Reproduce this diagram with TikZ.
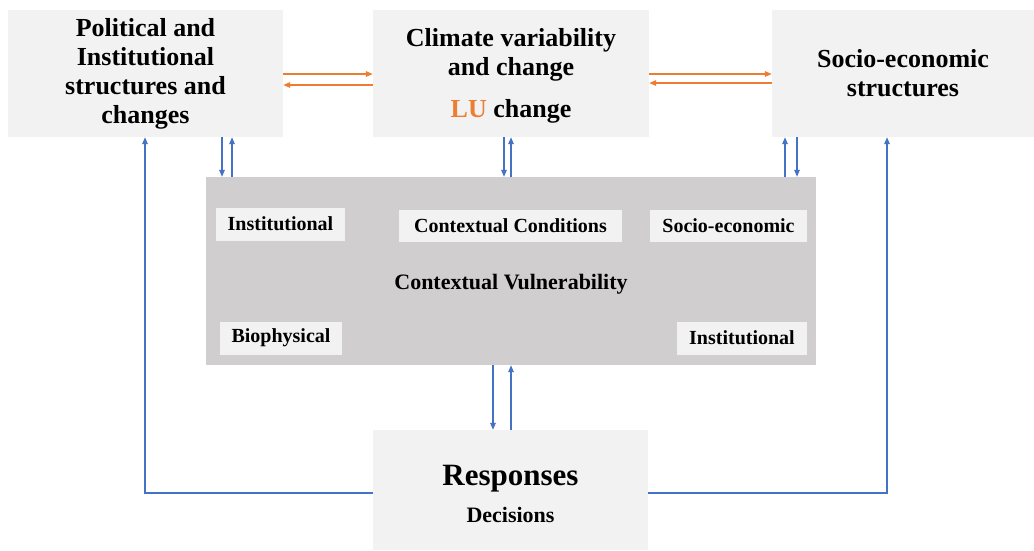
\documentclass[tikz,border=0pt]{standalone}
\usepackage{fontspec}
\setmainfont{Liberation Serif}
\usetikzlibrary{arrows.meta}
\definecolor{boxgrey}{HTML}{F2F2F2}
\definecolor{panelgrey}{HTML}{D0CECE}
\definecolor{linkblue}{HTML}{4472C4}
\definecolor{linkorange}{HTML}{ED7D31}
\begin{document}
\begin{tikzpicture}[x=1pt,y=-1pt,
  block/.style={fill=boxgrey, inner sep=0pt, align=center,
    font=\bfseries\fontsize{26}{29}\selectfont},
  panel/.style={fill=panelgrey, inner sep=0pt},
  tag/.style={fill=boxgrey, inner sep=0pt,
    font=\bfseries\fontsize{20}{24}\selectfont},
  blink/.style={draw=linkblue, line width=1.3pt, -{Triangle[length=7pt,width=5.5pt]}},
  bline/.style={draw=linkblue, line width=1.3pt, -{Triangle[length=7pt,width=5.5pt]}},
  olink/.style={draw=linkorange, line width=1.3pt, -{Triangle[length=7pt,width=5.5pt]}},
]
\useasboundingbox (0,0) rectangle (1034,550);
\fill[white] (0,0) rectangle (1034,550);

% top row of driver boxes
\node[block, minimum width=275pt, minimum height=127pt] (pol) at (145.5,73.5)
  {Political and\\Institutional\\structures and\\changes};
\node[block, minimum width=276pt, minimum height=127pt] (clim) at (511,73.5) {};
\node[block, anchor=center] (climtext) at (511,75.5)
  {Climate variability\\and change\\[13pt]{\color{linkorange}LU} change};
\node[block, minimum width=262pt, minimum height=127pt] (soc) at (903,73.5)
  {Socio-economic\\structures};

% central panel with its conditions
\node[panel, minimum width=610.5pt, minimum height=188pt] (vul) at (510.75,271) {};
\node[tag, minimum width=129pt, minimum height=33pt] (inst1) at (280.5,224) {Institutional};
\node[tag, minimum width=223pt, minimum height=32pt] (cond) at (510.5,225.5) {Contextual Conditions};
\node[tag, minimum width=157pt, minimum height=32pt] (socl) at (728.5,225.5) {Socio-economic};
\node[tag, minimum width=122pt, minimum height=33pt] (bio) at (281,338) {Biophysical};
\node[tag, minimum width=130pt, minimum height=33pt] (inst2) at (742,338) {Institutional};
\node[font=\bfseries\fontsize{22}{26}\selectfont] (cvtitle) at (511,284) {Contextual Vulnerability};

% responses box
\node[fill=boxgrey, inner sep=0pt, minimum width=275pt, minimum height=120pt] (resp) at (510.5,490) {};
\node[anchor=base, inner sep=0pt, font=\bfseries\fontsize{31}{36}\selectfont] (resptitle) at (510.5,485) {Responses};
\node[anchor=base, inner sep=0pt, font=\bfseries\fontsize{22}{26}\selectfont] (respsub) at (510.5,522.5) {Decisions};

% links between the top boxes
\draw[olink] (pol.east |- 0,74) -- (clim.west |- 0,74);
\draw[olink] (clim.west |- 0,85) -- (pol.east |- 0,85);
\draw[olink] (clim.east |- 0,74) -- (soc.west |- 0,74);
\draw[olink] (soc.west |- 0,83) -- (clim.east |- 0,83);

% links between the top boxes and the central panel
\draw[blink] (222,0 |- pol.south) -- (222,0 |- vul.north);
\draw[blink] (232,0 |- vul.north) -- (232,0 |- pol.south);
\draw[blink] (504,0 |- clim.south) -- (504,0 |- vul.north);
\draw[blink] (511,0 |- vul.north) -- (511,0 |- clim.south);
\draw[blink] (785,0 |- vul.north) -- (785,0 |- soc.south);
\draw[blink] (797,0 |- soc.south) -- (797,0 |- vul.north);

% links between the central panel and the responses
\draw[blink] (493,0 |- vul.south) -- (493,0 |- resp.north);
\draw[blink] (511,0 |- resp.north) -- (511,0 |- vul.south);

% feedback from the responses to the structures
\draw[bline] (resp.west |- 0,493) -| (145,0 |- pol.south);
\draw[bline] (resp.east |- 0,493) -| (887,0 |- soc.south);
\end{tikzpicture}
\end{document}
